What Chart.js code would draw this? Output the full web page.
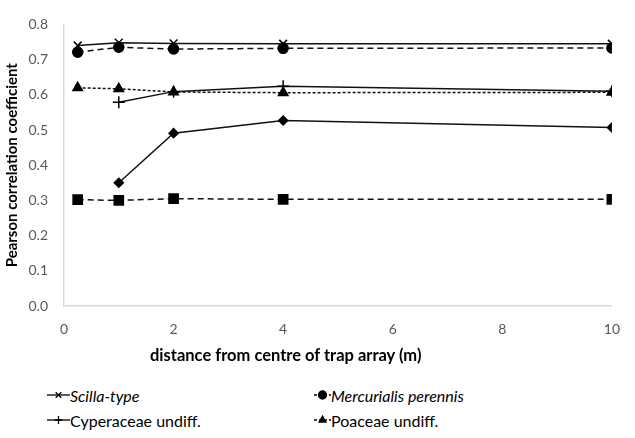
<!DOCTYPE html>
<html>
<head>
<meta charset="utf-8">
<script src="https://cdn.jsdelivr.net/npm/chart.js@4.4.0/dist/chart.umd.min.js"></script>
<style>
  body { margin: 0; background: #fff; }
  #wrap { position: relative; width: 635px; height: 438px; font-family: Lato, "Open Sans", sans-serif; }
  #chart { position: absolute; left: 0; top: 0; }
  .xtitle { position: absolute; left: 150px; top: 345px; font-size: 16.5px; font-weight: bold; color: #000; white-space: nowrap; }
  .leg { position: absolute; display: flex; align-items: center; font-size: 16px; color: #000; white-space: nowrap; height: 20px; }
  .it { font-style: italic; }
</style>
</head>
<body>
<div id="wrap">
  <canvas id="chart" width="635" height="375"></canvas>
  <div class="xtitle">distance from centre of trap array (m)</div>
  <div class="leg" style="left:47px; top:385px;"><canvas id="lg0" width="23" height="16"></canvas><span class="it">Scilla-type</span></div>
  <div class="leg" style="left:47px; top:410px;"><canvas id="lg2" width="23" height="16"></canvas><span>Cyperaceae undiff.</span></div>
  <div class="leg" style="left:314px; top:385px;"><canvas id="lg1" width="17" height="16"></canvas><span class="it">Mercurialis perennis</span></div>
  <div class="leg" style="left:314px; top:410px;"><canvas id="lg3" width="17" height="16"></canvas><span>Poaceae undiff.</span></div>
</div>
<script>
// distances (m)
const distances = [0.25, 1, 2, 4, 10];

// Pearson correlation per taxon (null = not sampled)
const scilla      = [0.740, 0.748, 0.746, 0.745, 0.745];
const mercurialis = [0.721, 0.735, 0.730, 0.732, 0.733];
const cyperaceae  = [null, 0.579, 0.609, 0.624, 0.610];
const poaceae     = [0.620, 0.617, 0.608, 0.606, 0.607];
const diamondSer  = [null, 0.350, 0.491, 0.527, 0.507];
const squareSer   = [0.302, 0.300, 0.305, 0.303, 0.303];

const xTicks = [0, 2, 4, 6, 8, 10];

function toPoints(vals) {
  const pts = [];
  vals.forEach((v, i) => { if (v !== null) pts.push({ x: distances[i], y: v }); });
  return pts;
}

// style per series
const styles = [
  { label: "Scilla-type", data: scilla, pointStyle: "crossRot", radius: 5.5, dash: [] },
  { label: "Mercurialis perennis", data: mercurialis, pointStyle: "circle", radius: 5, dash: [6, 4] },
  { label: "Cyperaceae undiff.", data: cyperaceae, pointStyle: "cross", radius: 6, dash: [] },
  { label: "Poaceae undiff.", data: poaceae, pointStyle: "triangle", radius: 5.5, dash: [3, 2] },
  { label: "", data: diamondSer, pointStyle: "rectRot", radius: 4.5, dash: [] },
  { label: "", data: squareSer, pointStyle: "rect", radius: 6.5, dash: [6, 4] }
];

const datasets = styles.map(s => ({
  label: s.label,
  data: toPoints(s.data),
  showLine: true,
  borderColor: "#111",
  backgroundColor: "#000",
  borderWidth: 1.5,
  borderDash: s.dash,
  pointStyle: s.pointStyle,
  pointRadius: s.radius,
  pointBorderWidth: 1.5,
  pointBorderColor: "#000",
  pointBackgroundColor: "#000",
  tension: 0
}));

new Chart(document.getElementById("chart"), {
  type: "scatter",
  data: { datasets },
  options: {
    responsive: false,
    devicePixelRatio: 1,
    animation: false,
    layout: { padding: { top: 15, right: 15, left: 0, bottom: 0 } },
    plugins: { legend: { display: false }, tooltip: { enabled: false } },
    scales: {
      x: {
        type: "linear",
        min: 0, max: 10,
        afterBuildTicks: (axis) => { axis.ticks = xTicks.map(v => ({ value: v })); },
        grid: { display: false, drawTicks: false },
        border: { display: true, color: "#d9d9d9", width: 1.5 },
        ticks: { color: "#595959", font: { family: "Lato", size: 14 }, padding: 15, maxRotation: 0 },
        afterFit: (axis) => { axis.height = 69; }
      },
      y: {
        min: 0, max: 0.8,
        grid: { display: false, drawTicks: false },
        border: { display: true, color: "#d9d9d9", width: 1.5 },
        ticks: {
          stepSize: 0.1,
          color: "#595959",
          font: { family: "Lato", size: 14 },
          padding: 16,
          callback: (v) => Number(v).toFixed(1)
        },
        title: {
          display: true,
          text: "Pearson correlation coefficient",
          color: "#000",
          font: { family: "Lato", size: 15, weight: "bold" },
          padding: { top: 3, bottom: 4 }
        },
        afterFit: (axis) => { axis.width = 64; }
      }
    }
  }
});

// legend symbols
function drawLegendSymbol(id, s) {
  const c = document.getElementById(id);
  const ctx = c.getContext("2d");
  const w = c.width;
  ctx.strokeStyle = "#000";
  ctx.fillStyle = "#000";
  ctx.lineWidth = 1.3;
  ctx.setLineDash(s.dash.length ? [3, 2] : []);
  ctx.beginPath();
  ctx.moveTo(0, 8);
  ctx.lineTo(w, 8);
  ctx.stroke();
  ctx.setLineDash([]);
  if (Chart.helpers && Chart.helpers.drawPoint) {
    Chart.helpers.drawPoint(ctx, { pointStyle: s.pointStyle, radius: Math.min(s.radius, 4), borderWidth: 1.2, rotation: 0 }, w / 2, 8);
  }
}
[0, 1, 2, 3].forEach(i => drawLegendSymbol("lg" + i, styles[i]));
</script>
</body>
</html>
